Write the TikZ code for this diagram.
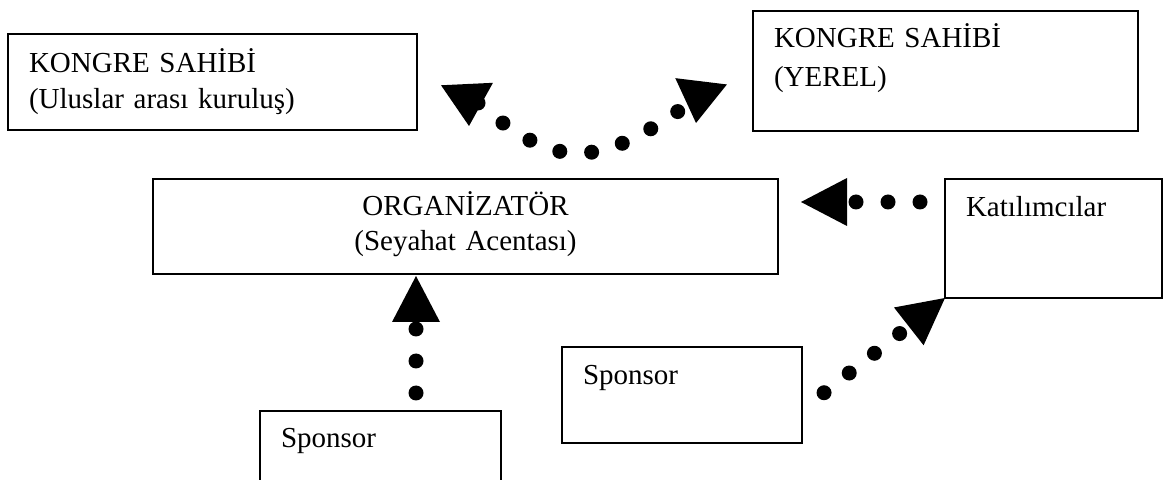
\documentclass[tikz,border=0pt]{standalone}
\usepackage{fontspec}
\setmainfont{Liberation Serif}
\usetikzlibrary{arrows.meta,positioning}

\begin{document}
\begin{tikzpicture}[
    x=0.5pt, y=-0.5pt,
    >={Triangle[length=23pt 0 0, width=24pt 0 0, line width=0pt]},
    box/.style={
		rectangle,
		draw=black,
		line width=1pt,
		outer sep=0pt,
		inner xsep=10.5pt,
		inner ysep=0pt,
		anchor=north west,
		align=left,
		font=\fontsize{14.5pt}{17.75pt}\selectfont
	},
	dots/.style={
		line width=7.5pt,
		line cap=round,
		dash pattern=on 0pt off 16pt
	},
	head/.style={
		line width=0.4pt,
		-{Triangle[length=21pt 0 0, width=26pt 0 0, line width=0pt]}
	}
  ]
  \useasboundingbox (0,0) rectangle (1172,480);

  % the blocks
  \node [box, text width=183.5pt, text height=19.5pt, text depth=28.5pt] (host1) at (8,34)
  {KONGRE SAHİBİ\\(Uluslar arası kuruluş)};

  \node [box, text width=171.5pt, text height=18.5pt, text depth=41.5pt,
         font=\fontsize{14.5pt}{19.5pt}\selectfont] (host2) at (753,11)
  {KONGRE SAHİBİ\\(YEREL)};

  \node [box, align=center, text width=291.5pt, text height=18.5pt, text depth=29pt,
         font=\fontsize{14.5pt}{17.5pt}\selectfont] (org) at (153,179)
  {ORGANİZATÖR\\(Seyahat Acentası)};

  \node [box, text width=87.5pt, text height=19pt, text depth=40.5pt] (kat) at (945,179)
  {Katılımcılar};

  \node [box, text width=99pt, text height=19pt, text depth=29pt] (sponsor2) at (562,347)
  {Sponsor};

  \node [box, text width=99.5pt, text height=18pt, text depth=30pt] (sponsor1) at (260,411)
  {Sponsor};

  % free ends
  \coordinate (curveL) at (478,103);
  \coordinate (curveR) at (690,103);
  \coordinate (baseL) at (467,84);
  \coordinate (tipL) at (469,126);
  \coordinate (baseR) at (701,82);
  \coordinate (tipR) at (696,123);
  \coordinate (katin) at ([yshift=-11.5pt]kat.north west);
  \coordinate (sp1out) at ([xshift=17.75pt]sponsor1.north);
  \coordinate (sp2out) at ([yshift=-7.5pt]sponsor2.east);

  \draw [dots] (curveL) .. controls (556,170) and (596,170) .. (curveR);
  \draw [head] (baseL) -- (tipL);
  \draw [head] (baseR) -- (tipR);

  \draw [dots,->, shorten <=12.5pt, shorten >=11.5pt] (katin) -- (katin -| org.east);
  \draw [dots,->, shorten <=9pt, shorten >=1pt] (sp1out) -- (sp1out |- org.south);
  \draw [dots,->, shorten <=14pt] (sp2out) -- (kat.south west);

\end{tikzpicture}
\end{document}
